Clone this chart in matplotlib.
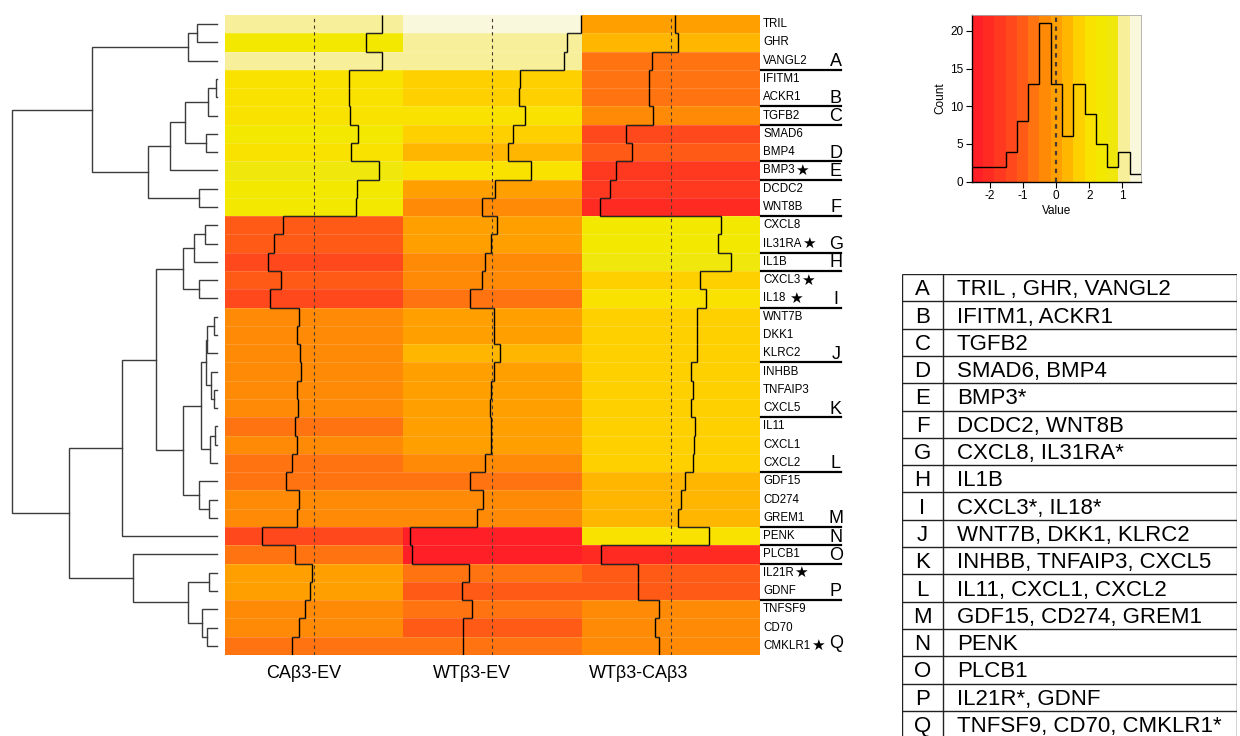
import matplotlib
matplotlib.use("Agg")
import matplotlib.pyplot as plt
from matplotlib.colors import ListedColormap, BoundaryNorm
import numpy as np

plt.rcParams["font.family"] = ["Liberation Sans", "DejaVu Sans"]

# rows top to bottom, as ordered by the dendrogram
genes = ["TRIL", "GHR", "VANGL2", "IFITM1", "ACKR1", "TGFB2", "SMAD6", "BMP4",
         "BMP3", "DCDC2", "WNT8B", "CXCL8", "IL31RA", "IL1B", "CXCL3", "IL18",
         "WNT7B", "DKK1", "KLRC2", "INHBB", "TNFAIP3", "CXCL5", "IL11", "CXCL1",
         "CXCL2", "GDF15", "CD274", "GREM1", "PENK", "PLCB1", "IL21R", "GDNF",
         "TNFSF9", "CD70", "CMKLR1"]
# genes marked with a star (value = gap before the star, points)
starred = {"BMP3": 0.3, "IL31RA": 0.3, "CXCL3": 0.3, "IL18": 2.5, "IL21R": 0.3, "CMKLR1": 0.3}

columns = ["CAβ3-EV", "WTβ3-EV", "WTβ3-CAβ3"]
ca_ev = [1.95, 1.50, 1.95, 0.99, 1.00, 1.04, 1.26, 1.07, 1.85, 1.22, 1.20,
         -0.88, -1.14, -1.33, -0.94, -1.27, -0.44, -0.48, -0.39, -0.36, -0.48,
         -0.47, -0.54, -0.48, -0.62, -0.81, -0.44, -0.48, -1.48, -0.53, -0.07,
         -0.11, -0.26, -0.42, -0.62]
wt_ev = [2.53, 2.15, 2.04, 0.78, 0.76, 0.95, 0.58, 0.44, 1.10, 0.09, -0.30,
         0.12, -0.03, -0.22, -0.30, -0.63, 0.06, 0.06, 0.22, 0.04, -0.03,
         -0.08, -0.04, -0.04, -0.22, -0.63, -0.28, -0.45, -2.37, -2.31, -0.68,
         -0.88, -0.58, -0.85, -0.83]
wt_ca = [0.13, 0.20, -0.54, -0.61, -0.61, -0.50, -1.27, -1.10, -1.58, -1.74, -2.03,
         1.45, 1.37, 1.73, 0.83, 1.02, 0.75, 0.75, 0.75, 0.59, 0.64,
         0.58, 0.71, 0.68, 0.65, 0.41, 0.30, 0.20, 1.11, -2.01, -0.95,
         -0.95, -0.32, -0.45, -0.32]

breaks = np.linspace(-2.55, 2.56, 16)
key_counts = [2, 2, 2, 4, 8, 13, 21, 13, 6, 13, 9, 5, 2, 4, 1]
key_ticks = [-2, -1, 0, 1, 2]
key_ticklabels = ["-2", "-1", "0", "2", "1"]
palette = ["#ff1f26", "#ff2a22", "#ff3820", "#ff481c", "#ff5a16", "#ff7410",
           "#ff8a06", "#ffa000", "#ffb600", "#ffd000", "#fae200", "#f2e800",
           "#f0e80c", "#f7ef9a", "#faf8dc"]

group_letters = list("ABCDEFGHIJKLMNOPQ")
group_last_row = [3, 5, 6, 8, 9, 11, 13, 14, 16, 19, 22, 25, 28, 29, 30, 32, 35]
group_members = ["TRIL , GHR, VANGL2", "IFITM1, ACKR1", "TGFB2", "SMAD6, BMP4",
                 "BMP3*", "DCDC2, WNT8B", "CXCL8, IL31RA*", "IL1B", "CXCL3*, IL18*",
                 "WNT7B, DKK1, KLRC2", "INHBB, TNFAIP3, CXCL5", "IL11, CXCL1, CXCL2",
                 "GDF15, CD274, GREM1", "PENK", "PLCB1", "IL21R*, GDNF",
                 "TNFSF9, CD70, CMKLR1*"]

# row dendrogram: (height, left, right), leaves are row indices
row_tree = (617,
            (375, (89, (62, 0, 1), 2),
                  (208, (143, (97, (27, (3, 3, 4), 5), (34, 6, 7)), 8), (54, 9, 10))),
            (446,
             (286,
              (183, (104, (69, (37, 11, 12), 13), (55, 14, 15)),
                    (102, (49, (34, (30, (10, 16, 17), 18), (19, 19, (10, 20, 21))),
                               (22, (7, 22, 23), 24)),
                          (55, 25, (25, 26, 27)))),
              28),
             (252, 29, (89, (24, 30, 31), (46, 32, (30, 33, 34))))))

W, H = 1240, 736
fig = plt.figure(figsize=(W / 100, H / 100), dpi=100)


def px_axes(x0, y0, x1, y1):
    return fig.add_axes([x0 / W, 1 - y1 / H, (x1 - x0) / W, (y1 - y0) / H])


# ---- heatmap
vals = np.column_stack([ca_ev, wt_ev, wt_ca])
n = len(genes)
cmap = ListedColormap(palette)
norm = BoundaryNorm(breaks, cmap.N)
lo, hi = breaks[0], breaks[-1]

ax = px_axes(225, 15, 760, 655)
ax.pcolormesh(np.arange(4), np.arange(n + 1), vals, cmap=cmap, norm=norm)
ax.hlines(np.arange(1, n), 0, 3, color="white", lw=0.6, alpha=0.18)
ax.set_xlim(0, 3)
ax.set_ylim(n, 0)
ax.axis("off")

zero = (0 - lo) / (hi - lo)
for j in range(3):
    ax.axvline(j + zero, color="#4a3a30", lw=0.8, ls=(0, (3, 3)))
    ax.stairs(j + (vals[:, j] - lo) / (hi - lo), np.arange(n + 1),
              orientation="horizontal", baseline=None, color="black", lw=1.0)

for i, g in enumerate(genes):
    t = ax.text(3.017, i + 0.5, g, fontsize=8.3, va="center", ha="left", clip_on=False)
    if g in starred:
        ax.annotate("★", xy=(1, 0.5), xycoords=t, xytext=(starred[g], 0),
                    textcoords="offset points", va="center", ha="left",
                    fontsize=11, family="DejaVu Sans")

for letter, last in zip(group_letters, group_last_row):
    lift = 0.38 if letter == "Q" else 0.2
    ax.text(3.426, last - lift, letter, fontsize=13, ha="center", va="baseline",
            clip_on=False)
    if letter != "Q":
        ax.plot([3.006, 3.454], [last, last], color="black", lw=1.6, clip_on=False)

for j, name in enumerate(columns):
    ax.text(j + 0.5 - 0.056 - 0.061 * j, n + 1.0, name, fontsize=13,
            ha="center", va="center", clip_on=False)

# ---- row dendrogram
dx = px_axes(0, 15, 225, 655)
dx.set_xlim(652, -23)
dx.set_ylim(n, 0)
dx.axis("off")


def draw_node(node):
    if isinstance(node, int):
        return node + 0.5, 0
    h, left, right = node
    y1, h1 = draw_node(left)
    y2, h2 = draw_node(right)
    dx.plot([h1, h, h, h2], [y1, y1, y2, y2], color="#3c3c3c", lw=1.0,
            solid_joinstyle="miter")
    return (y1 + y2) / 2, h


draw_node(row_tree)

# ---- colour key
kx = px_axes(971.7, 15, 1141, 181.7)
mids = (breaks[:-1] + breaks[1:]) / 2
kx.pcolormesh(breaks, [0, 22.1], mids[None, :], cmap=cmap, norm=norm)
kx.stairs(key_counts, breaks, baseline=None, color="black", lw=1.0)
kx.axvline(0, color="#4a3a30", lw=1.6, ls=(0, (2, 2)))
kx.set_xlim(lo, hi)
kx.set_ylim(0, 22.1)
kx.set_xticks(key_ticks)
kx.set_xticklabels(key_ticklabels)
kx.set_yticks([0, 5, 10, 15, 20])
kx.tick_params(labelsize=8.5, length=4, width=0.8, pad=2)
kx.set_xlabel("Value", fontsize=8.5, labelpad=2)
kx.set_ylabel("Count", fontsize=8.5, labelpad=3)
for side in ["top", "right"]:
    kx.spines[side].set_color("#aaaaaa")
    kx.spines[side].set_linewidth(0.6)
for side in ["left", "bottom"]:
    kx.spines[side].set_linewidth(1.0)

# ---- group table
row_h = 27.3
top = 274
tx = px_axes(901.7, top, 1237.3, top + row_h * len(group_letters))
tx.set_xlim(0, 1)
tx.set_ylim(len(group_letters), 0)
tx.axis("off")
div = (943.3 - 901.7) / (1237.3 - 901.7)
tx.hlines(np.arange(len(group_letters) + 1), 0, 1, color="#222222", lw=1.0)
tx.vlines([0, div, 1], 0, len(group_letters), color="#222222", lw=1.0)
for i, (letter, members) in enumerate(zip(group_letters, group_members)):
    tx.text(div / 2, i + 0.78, letter, fontsize=16, ha="center", va="baseline")
    tx.text(0.164, i + 0.78, members, fontsize=16, ha="left", va="baseline")

fig.savefig("out.png", dpi=100)
